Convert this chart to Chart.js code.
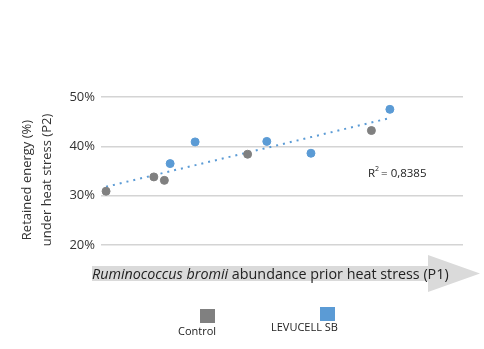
<!DOCTYPE html>
<html>
<head>
<meta charset="utf-8">
<script src="https://cdn.jsdelivr.net/npm/chart.js@4"></script>
<style>
  html, body { margin: 0; padding: 0; background: #fff; }
  #wrap { width: 484px; height: 349px; position: relative; }
</style>
</head>
<body>
<div id="wrap"><canvas id="chart" width="484" height="349"></canvas></div>
<script>
// values (x is an arbitrary 0-100 abundance scale)
const controlX = [1.4, 14.6, 17.5, 40.5, 74.7];
const controlY = [30.9, 33.8, 33.1, 38.4, 43.2];
const levucellX = [19.1, 26.0, 45.8, 58.0, 79.8];
const levucellY = [36.5, 40.9, 41.0, 38.6, 47.5];
const trendX = [1.4, 79.6];
const trendY = [31.8, 45.7];
const yTicks = [20, 30, 40, 50];
const seriesNames = ['Control', 'LEVUCELL SB'];
const yTitle = ['Retained energy (%)', 'under heat stress (P2)'];
const xTitleItalic = 'Ruminococcus bromii';
const xTitleRest = ' abundance prior heat stress (P1)';
const r2Label = '0,8385';

const GREY = '#808080';
const BLUE = '#5b9bd5';
const FONT = "'Open Sans', sans-serif";

const toPts = (xs, ys) => xs.map((x, i) => ({ x, y: ys[i] }));

// draws the y title, the arrow with its label, R² and the legend
const extras = {
  id: 'extras',
  afterDraw(chart) {
    const c = chart.ctx;
    c.save();

    // rotated y title
    c.fillStyle = '#333';
    c.font = `13px ${FONT}`;
    c.textAlign = 'center';
    c.textBaseline = 'middle';
    c.translate(37, 180);
    c.rotate(-Math.PI / 2);
    c.fillText(yTitle[0], 0, -10);
    c.fillText(yTitle[1], 0, 10);
    c.setTransform(1, 0, 0, 1, 0, 0);

    // arrow
    c.fillStyle = '#dadada';
    c.beginPath();
    c.moveTo(92, 266);
    c.lineTo(428, 266);
    c.lineTo(428, 255);
    c.lineTo(480, 273.5);
    c.lineTo(428, 292);
    c.lineTo(428, 281);
    c.lineTo(92, 281);
    c.closePath();
    c.fill();

    // arrow label, italic species name then regular text
    c.fillStyle = '#222';
    c.textAlign = 'left';
    c.textBaseline = 'alphabetic';
    c.font = `italic 15px ${FONT}`;
    const wItal = c.measureText(xTitleItalic).width;
    c.font = `15px ${FONT}`;
    const wRest = c.measureText(xTitleRest).width;
    const fs = 15 * 357 / (wItal + wRest);
    c.font = `italic ${fs}px ${FONT}`;
    c.fillText(xTitleItalic, 92, 279);
    const w1 = c.measureText(xTitleItalic).width;
    c.font = `${fs}px ${FONT}`;
    c.fillText(xTitleRest, 92 + w1, 279);

    // R² label
    c.fillStyle = '#222';
    c.font = `11.5px ${FONT}`;
    c.textBaseline = 'middle';
    c.fillText('R', 368, 174);
    const wR = c.measureText('R').width;
    c.font = `7px ${FONT}`;
    c.fillText('2', 368 + wR, 169);
    c.font = `11.5px ${FONT}`;
    c.fillText('= ' + r2Label, 368 + wR + 6, 174);

    // legend: squares above their labels
    c.fillStyle = GREY;
    c.fillRect(200, 309, 15, 14);
    c.fillStyle = BLUE;
    c.fillRect(320, 307, 15, 14);
    c.fillStyle = '#222';
    c.font = `11px ${FONT}`;
    c.fillText(seriesNames[0], 178, 332);
    c.fillText(seriesNames[1], 271, 328);

    c.restore();
  }
};

new Chart(document.getElementById('chart'), {
  type: 'scatter',
  data: {
    datasets: [
      {
        label: seriesNames[0],
        data: toPts(controlX, controlY),
        backgroundColor: GREY,
        borderColor: GREY,
        pointRadius: 4,
        pointHoverRadius: 4
      },
      {
        label: seriesNames[1],
        data: toPts(levucellX, levucellY),
        backgroundColor: BLUE,
        borderColor: BLUE,
        pointRadius: 4,
        pointHoverRadius: 4
      },
      {
        type: 'line',
        label: 'trend',
        data: toPts(trendX, trendY),
        borderColor: BLUE,
        borderWidth: 2,
        borderDash: [2, 5],
        pointRadius: 0,
        fill: false
      }
    ]
  },
  options: {
    responsive: false,
    animation: false,
    layout: { padding: { top: 97, right: 21, bottom: 104, left: 0 } },
    plugins: {
      legend: { display: false },
      tooltip: { enabled: false }
    },
    scales: {
      x: {
        type: 'linear',
        min: 0,
        max: 100,
        display: false
      },
      y: {
        min: 20,
        max: 50,
        afterBuildTicks(axis) {
          axis.ticks = yTicks.map(v => ({ value: v }));
        },
        afterFit(axis) {
          axis.width = 101;
        },
        border: { display: false },
        grid: { color: '#d4d4d4', lineWidth: 1.5, drawTicks: false },
        ticks: {
          padding: 6,
          color: '#333',
          font: { family: FONT, size: 13 },
          callback: v => v + '%'
        }
      }
    }
  },
  plugins: [extras]
});
</script>
</body>
</html>
